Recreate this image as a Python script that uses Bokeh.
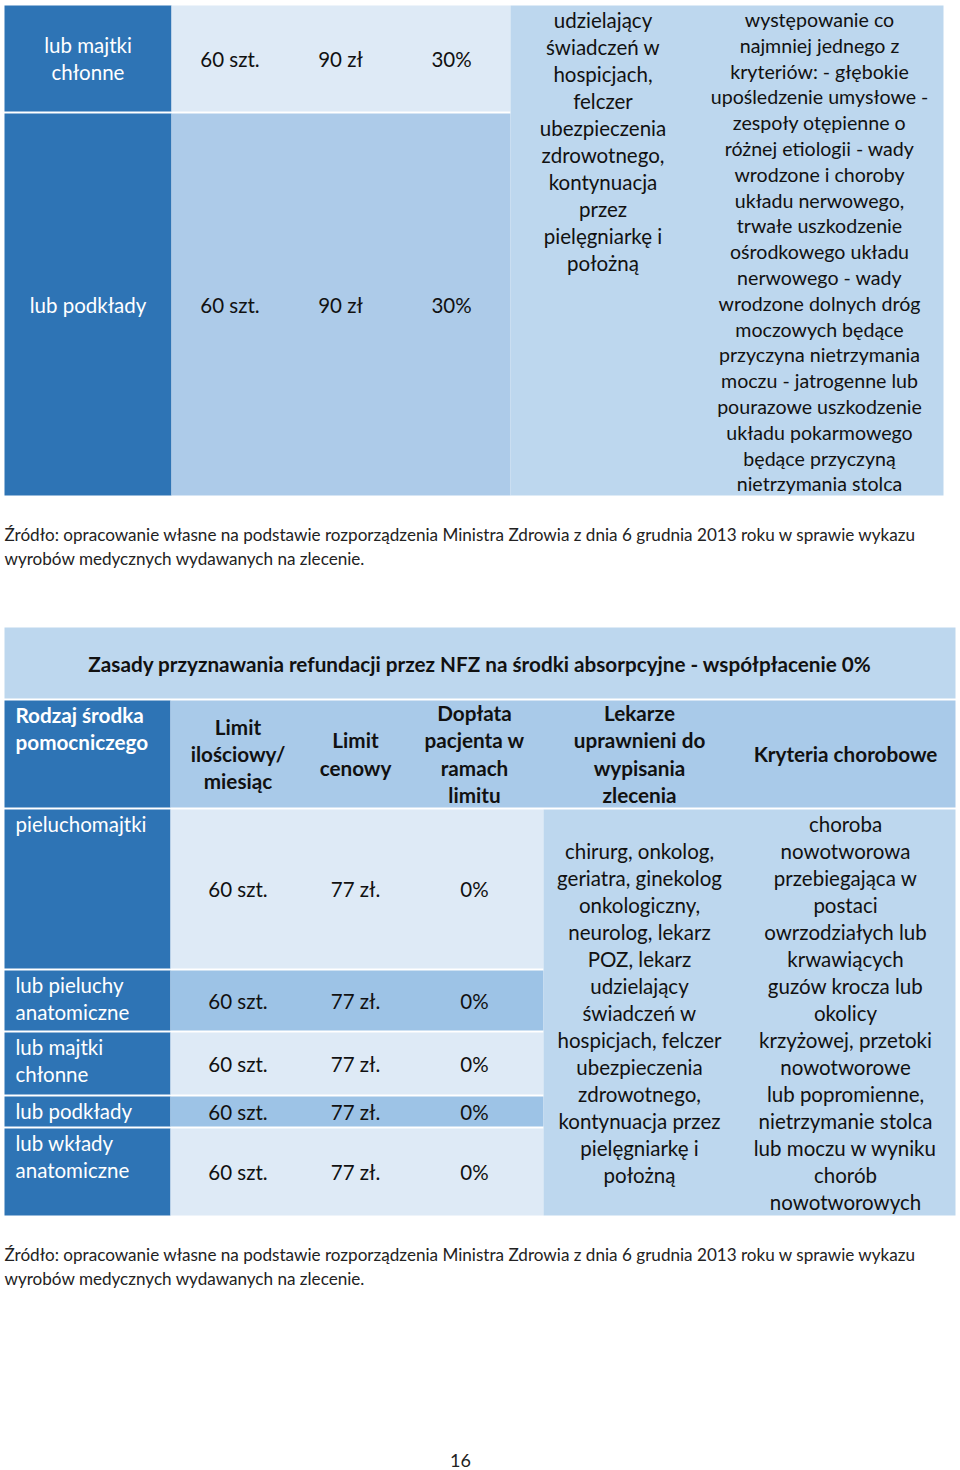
from bokeh.plotting import figure
from bokeh.models import Range1d
from bokeh.core.properties import value
from bokeh.embed import file_html
from bokeh.resources import INLINE

# ---------------- data ----------------
t1_products = [["lub majtki", "chłonne"], ["lub podkłady"]]
t1_qty = ["60 szt.", "60 szt."]
t1_price = ["90 zł", "90 zł"]
t1_copay = ["30%", "30%"]
t1_doctors = ["udzielający", "świadczeń w", "hospicjach,", "felczer", "ubezpieczenia",
              "zdrowotnego,", "kontynuacja", "przez", "pielęgniarkę i", "położną"]
t1_criteria = ["występowanie co", "najmniej jednego z", "kryteriów: - głębokie",
               "upośledzenie umysłowe -", "zespoły otępienne o", "różnej etiologii - wady",
               "wrodzone i choroby", "układu nerwowego,", "trwałe uszkodzenie",
               "ośrodkowego układu", "nerwowego - wady", "wrodzone dolnych dróg",
               "moczowych będące", "przyczyna nietrzymania", "moczu - jatrogenne lub",
               "pourazowe uszkodzenie", "układu pokarmowego", "będące przyczyną",
               "nietrzymania stolca"]

t2_title = "Zasady przyznawania refundacji przez NFZ na środki absorpcyjne - współpłacenie 0%"
t2_headers = [["Rodzaj środka", "pomocniczego"], ["Limit", "ilościowy/", "miesiąc"],
              ["Limit", "cenowy"], ["Dopłata", "pacjenta w", "ramach", "limitu"],
              ["Lekarze", "uprawnieni do", "wypisania", "zlecenia"], ["Kryteria chorobowe"]]
t2_products = [["pieluchomajtki"], ["lub pieluchy", "anatomiczne"], ["lub majtki", "chłonne"],
               ["lub podkłady"], ["lub wkłady", "anatomiczne"]]
t2_qty = ["60 szt.", "60 szt.", "60 szt.", "60 szt.", "60 szt."]
t2_price = ["77 zł.", "77 zł.", "77 zł.", "77 zł.", "77 zł."]
t2_copay = ["0%", "0%", "0%", "0%", "0%"]
t2_doctors = ["chirurg, onkolog,", "geriatra, ginekolog", "onkologiczny,", "neurolog, lekarz",
              "POZ, lekarz", "udzielający", "świadczeń w", "hospicjach, felczer",
              "ubezpieczenia", "zdrowotnego,", "kontynuacja przez", "pielęgniarkę i", "położną"]
t2_criteria = ["choroba", "nowotworowa", "przebiegająca w", "postaci", "owrzodziałych lub",
               "krwawiących", "guzów krocza lub", "okolicy", "krzyżowej, przetoki",
               "nowotworowe", "lub popromienne,", "nietrzymanie stolca", "lub moczu w wyniku",
               "chorób", "nowotworowych"]

source_note = ["Źródło: opracowanie własne na podstawie rozporządzenia Ministra Zdrowia z dnia 6 grudnia 2013 roku w sprawie wykazu",
               "wyrobów medycznych wydawanych na zlecenie."]
page_number = "16"

# ---------------- styles ----------------
DARK = "#2E74B5"
LIGHT = "#DEEAF6"
MED1 = "#ADCBE9"
MED2 = "#9DC3E6"
HEAD = "#A9CAE9"
PALE = "#BDD7EE"
FONT = "Lato"
FS = "20.5px"
FS_BOLD = "20.7px"

p = figure(width=960, height=1470, x_range=Range1d(0, 960), y_range=Range1d(1470, 0),
           output_backend="svg", toolbar_location=None, min_border=0)
p.axis.visible = False
p.grid.visible = False
p.outline_line_color = None
p.background_fill_color = "white"


def box(l, r, t, b, color):
    p.quad(left=[l], right=[r], top=[t], bottom=[b], fill_color=color, line_color=None)


def label(lines, x, y0, dy, align="center", bold=False, color="#111111", size=None):
    if size is None:
        size = FS_BOLD if bold else FS
    ys = [y0 + i * dy for i in range(len(lines))]
    p.text(x=[x] * len(lines), y=ys, text=list(lines), text_align=align,
           text_baseline="middle", text_color=color, text_font=value(FONT),
           text_font_size=size, text_font_style="bold" if bold else "normal")


def centered(lines, x, top, bottom, dy, **kw):
    mid = (top + bottom) / 2
    y0 = mid - dy * (len(lines) - 1) / 2
    label(lines, x, y0, dy, **kw)


# ---------------- table 1 (continuation) ----------------
c1 = [4, 171, 288, 392, 510, 695, 943]
r1 = [(5, 111), (113, 495)]
row_cols = [LIGHT, MED1]
for i, (t, b) in enumerate(r1):
    box(c1[0], c1[1], t, b, DARK)
    box(c1[1], c1[4], t, b, row_cols[i])
box(c1[4], c1[6], 5, 495, PALE)

for i, (t, b) in enumerate(r1):
    centered(t1_products[i], (c1[0] + c1[1]) / 2, t, b, 27, color="white")
    centered([t1_qty[i]], (c1[1] + c1[2]) / 2, t, b, 27)
    centered([t1_price[i]], (c1[2] + c1[3]) / 2, t, b, 27)
    centered([t1_copay[i]], (c1[3] + c1[4]) / 2, t, b, 27)
label(t1_doctors, (c1[4] + c1[5]) / 2, 19, 27.1)
label(t1_criteria, (c1[5] + c1[6]) / 2, 19, 25.8, size="19.6px")

label(source_note, 4, 534, 24, align="left", color="#222222", size="17.1px")

# ---------------- table 2 ----------------
c2 = [4, 170, 305, 405, 543, 735, 955]
box(c2[0], c2[6], 627, 698, PALE)
label([t2_title], (c2[0] + c2[6]) / 2, 663, 27, bold=True)

ht, hb = 700, 807
box(c2[0], c2[1], ht, hb, DARK)
box(c2[1], c2[6], ht, hb, HEAD)
label(t2_headers[0], 15, 714, 27, align="left", bold=True, color="white")
for j in range(1, 6):
    centered(t2_headers[j], (c2[j] + c2[j + 1]) / 2, ht, hb, 27.3, bold=True)

r2 = [(809, 968), (970, 1030), (1032, 1094), (1096, 1126), (1128, 1215)]
fills2 = [LIGHT, MED2, LIGHT, MED2, LIGHT]
for i, (t, b) in enumerate(r2):
    box(c2[0], c2[1], t, b, DARK)
    box(c2[1], c2[4], t, b, fills2[i])
    label(t2_products[i], 15, t + 14.5, 27, align="left", color="white")
    centered([t2_qty[i]], (c2[1] + c2[2]) / 2, t, b, 27)
    centered([t2_price[i]], (c2[2] + c2[3]) / 2, t, b, 27)
    centered([t2_copay[i]], (c2[3] + c2[4]) / 2, t, b, 27)
box(c2[4], c2[6], 809, 1215, PALE)
centered(t2_doctors, (c2[4] + c2[5]) / 2, 809, 1215, 27)
centered(t2_criteria, (c2[5] + c2[6]) / 2, 809, 1215, 27)

label(source_note, 4, 1254, 24, align="left", color="#222222", size="17.1px")
label([page_number], 460, 1460, 24, color="#222222", size="18px")

open("out.html", "w").write(file_html(p, INLINE))
